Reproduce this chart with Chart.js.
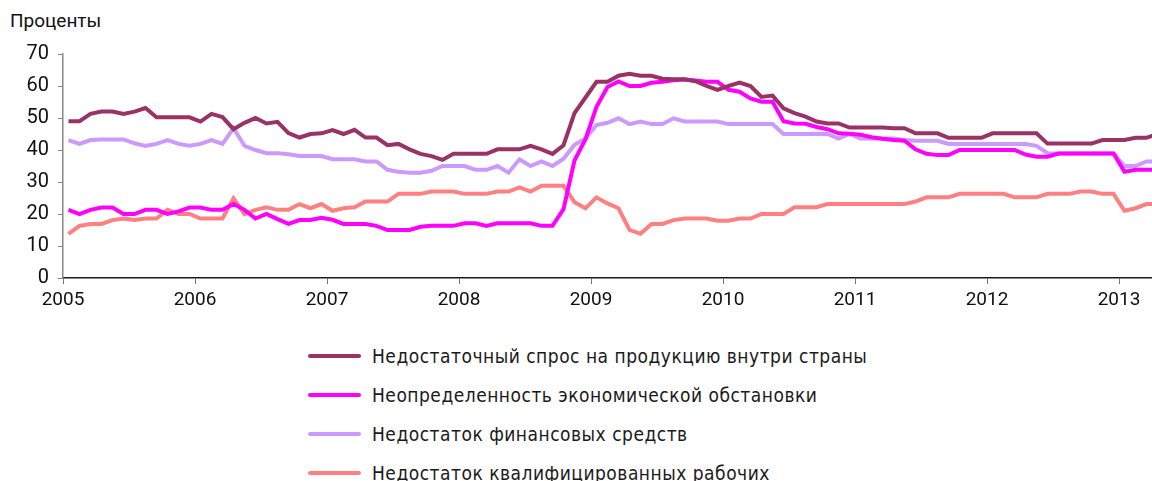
<!DOCTYPE html>
<html lang="ru">
<head>
<meta charset="utf-8">
<script src="https://cdn.jsdelivr.net/npm/chart.js@4.4.1/dist/chart.umd.min.js"></script>
<style>
  html, body { margin: 0; padding: 0; background: #fff; }
  #wrap { position: relative; width: 1152px; height: 481px; overflow: hidden; }
  #ttl { position: absolute; left: 10px; top: 9px; font: 19px Roboto, 'DejaVu Sans Condensed', sans-serif; color: #111; }
  #cv-box { position: absolute; left: 0; top: 0; width: 1152px; height: 320px; }
  #lg { position: absolute; left: 308px; top: 336px; font: 19px 'DejaVu Sans Condensed', 'DejaVu Sans', sans-serif; letter-spacing: 0.5px; color: #1a1a1a; }
  #lg .row { display: flex; align-items: center; height: 39px; }
  #lg .sw { width: 53px; height: 4px; border-radius: 2px; margin-right: 11px; }
</style>
</head>
<body>
<div id="wrap">
  <div id="ttl">Проценты</div>
  <div id="cv-box"><canvas id="cv"></canvas></div>
  <div id="lg"></div>
</div>
<script>
// помесячные данные, январь 2005 — апрель 2013
var START_YEAR = 2005;
var YEAR_TICKS = [2005, 2006, 2007, 2008, 2009, 2010, 2011, 2012, 2013];

var demand = [
  49, 49, 51.3, 52, 52, 51.3, 52, 53.1, 50.2, 50.2, 50.2, 50.2,
  48.9, 51.3, 50.3, 46.5, 48.5, 50, 48.3, 48.8, 45.3, 43.9, 45, 45.2,
  46.2, 45, 46.3, 43.9, 43.9, 41.5, 41.9, 40.2, 38.8, 38.1, 36.9, 38.8,
  38.8, 38.8, 38.8, 40.2, 40.2, 40.2, 41.3, 40.2, 38.8, 41.5, 51.5, 56.4,
  61.3, 61.3, 63.2, 63.8, 63.2, 63.2, 62.3, 62.1, 62.1, 61.5, 60, 58.8,
  60, 61.1, 60, 56.6, 57, 53, 51.5, 50.4, 48.9, 48.3, 48.3, 47,
  47, 47, 47, 46.8, 46.8, 45.2, 45.2, 45.2, 43.8, 43.8, 43.8, 43.8,
  45.2, 45.2, 45.2, 45.2, 45.2, 42, 42, 42, 42, 42, 43.1, 43.1,
  43.1, 43.8, 43.8, 45
];
var uncertainty = [
  21.3, 20, 21.3, 22, 22, 20, 20, 21.3, 21.3, 20, 20.8, 22,
  22, 21.3, 21.3, 23.1, 21.3, 18.6, 20, 18.4, 16.9, 18.1, 18.1, 18.8,
  18.2, 16.9, 16.9, 16.9, 16.3, 15, 15, 15, 16, 16.3, 16.3, 16.3,
  17.1, 17.1, 16.3, 17.1, 17.1, 17.1, 17.1, 16.3, 16.3, 21.5, 36.7, 43.4,
  53.5, 59.7, 61.4, 60, 60, 61, 61.3, 61.8, 62, 61.7, 61.3, 61.3,
  58.8, 58.2, 56.1, 55.1, 55.1, 49, 48.3, 48.2, 47.2, 46.5, 45.2, 45.1,
  44.8, 44, 43.5, 43.1, 42.9, 40.2, 38.8, 38.4, 38.4, 40, 40, 40,
  40, 40, 40, 38.6, 37.9, 37.9, 38.9, 38.9, 38.9, 38.9, 38.9, 38.9,
  33.2, 33.8, 33.8, 33.8
];
var finance = [
  43.1, 41.9, 43.1, 43.3, 43.3, 43.3, 42.1, 41.3, 41.9, 43.1, 41.9, 41.3,
  41.9, 43.1, 41.9, 46.8, 41.3, 40, 39, 39, 38.7, 38.1, 38.1, 38.1,
  37.1, 37.1, 37.1, 36.4, 36.4, 33.8, 33.2, 32.9, 32.9, 33.5, 35, 35,
  35, 33.8, 33.8, 35, 32.9, 37.1, 35, 36.4, 35, 37.3, 41.6, 43.6,
  47.8, 48.5, 49.9, 48.1, 48.9, 48.1, 48.1, 49.9, 48.9, 48.9, 48.9, 48.9,
  48.1, 48.1, 48.1, 48.1, 48.1, 45, 45, 45, 45, 45, 43.6, 45,
  43.6, 43.6, 43.6, 43.6, 43.1, 42.9, 42.9, 42.9, 41.9, 41.9, 41.9, 41.9,
  41.9, 41.9, 41.9, 41.9, 41.3, 39, 38.9, 38.9, 38.9, 38.9, 38.9, 38.9,
  35, 35, 36.4, 36.4
];
var workers = [
  13.8, 16.3, 16.9, 16.9, 18.1, 18.6, 18.1, 18.6, 18.6, 21.3, 20, 20,
  18.6, 18.6, 18.6, 24.9, 20, 21.3, 22.1, 21.3, 21.3, 23.1, 21.8, 23.1,
  21, 21.8, 22.1, 23.9, 23.9, 23.9, 26.3, 26.3, 26.3, 27, 27, 27,
  26.3, 26.3, 26.3, 27, 27, 28.3, 27, 28.8, 28.8, 28.8, 23.7, 21.8,
  25.2, 23.3, 21.8, 15, 13.8, 16.9, 16.9, 18.1, 18.6, 18.6, 18.6, 17.9,
  17.9, 18.6, 18.6, 20, 20, 20, 22.1, 22.1, 22.1, 23.1, 23.1, 23.1,
  23.1, 23.1, 23.1, 23.1, 23.1, 23.9, 25.2, 25.2, 25.2, 26.3, 26.3, 26.3,
  26.3, 26.3, 25.2, 25.2, 25.2, 26.3, 26.3, 26.3, 27, 27, 26.3, 26.3,
  21, 21.8, 23.1, 23.1
];

var SERIES = [
  { label: 'Недостаточный спрос на продукцию внутри страны', data: demand, color: '#993366' },
  { label: 'Неопределенность экономической обстановки', data: uncertainty, color: '#FF00FF' },
  { label: 'Недостаток финансовых средств', data: finance, color: '#CC99FF' },
  { label: 'Недостаток квалифицированных рабочих', data: workers, color: '#FF8080' }
];

// точка месяца — в середине месяца на шкале лет
function toPoints(arr) {
  return arr.map(function (v, i) { return { x: START_YEAR + (i + 0.5) / 12, y: v }; });
}

var FONT = "Roboto, 'DejaVu Sans Condensed', sans-serif";

var chart = new Chart(document.getElementById('cv'), {
  type: 'line',
  data: {
    datasets: SERIES.map(function (s) {
      return {
        label: s.label, data: toPoints(s.data), borderColor: s.color, backgroundColor: s.color,
        borderWidth: 4, pointRadius: 0, tension: 0, borderJoinStyle: 'miter', borderCapStyle: 'butt'
      };
    })
  },
  options: {
    responsive: true, maintainAspectRatio: false, animation: false,
    layout: { padding: { top: 54, right: 0, left: 0, bottom: 0 } },
    plugins: { legend: { display: false }, tooltip: { enabled: false } },
    scales: {
      x: {
        type: 'linear', min: 2005, max: 2013.25,
        afterBuildTicks: function (sc) { sc.ticks = YEAR_TICKS.map(function (v) { return { value: v }; }); },
        afterFit: function (sc) { sc.height = 42; },
        border: { display: true, color: '#1a1a1a', width: 1.5 },
        grid: { drawOnChartArea: false, drawTicks: true, tickLength: 6, color: '#777' },
        ticks: { includeBounds: false, color: '#111', font: { family: FONT, size: 19 }, padding: 5, maxRotation: 0,
                 callback: function (v) { return String(v); } }
      },
      y: {
        min: 0, max: 70,
        afterFit: function (sc) { sc.width = 63; },
        border: { display: true, color: '#888', width: 1.5 },
        grid: { drawOnChartArea: false, drawTicks: true, tickLength: 5, color: '#888' },
        ticks: { stepSize: 10, color: '#111', font: { family: FONT, size: 20 }, padding: 9 }
      }
    }
  }
});

// легенда столбиком, как в оригинале
var lg = document.getElementById('lg');
lg.innerHTML = chart.data.datasets.map(function (d) {
  return '<div class="row"><span class="sw" style="background:' + d.borderColor + '"></span><span>' + d.label + '</span></div>';
}).join('');
</script>
</body>
</html>
